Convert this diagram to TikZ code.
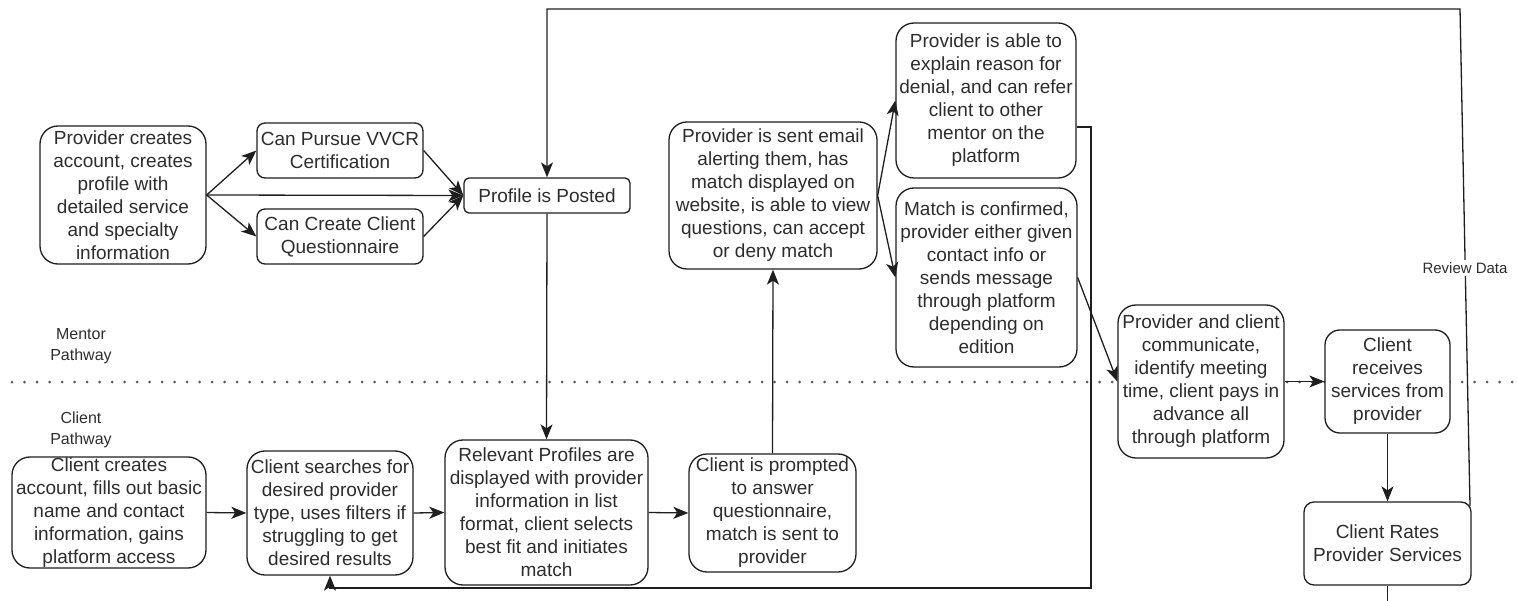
\documentclass[tikz,border=0pt]{standalone}
\usepackage{fontspec}
\setmainfont{Liberation Sans}
\usetikzlibrary{arrows.meta}
\definecolor{ink}{RGB}{30,30,30}
\definecolor{txt}{RGB}{45,45,45}
\definecolor{dots}{RGB}{90,90,90}

\begin{document}
\begin{tikzpicture}[x=1pt,y=-1pt,
  box/.style={draw=ink, line width=1.3pt, fill=white, rounded corners=#1,
    inner sep=0pt, align=center, text=txt, font=\fontsize{19}{23}\selectfont},
  box/.default=18pt,
  flow/.style={draw=ink, line width=1.3pt, -{Stealth[length=15pt,width=12pt,inset=4pt]}},
  wire/.style={draw=ink, line width=1.3pt},
  lane/.style={text=txt, align=center, font=\fontsize{16}{21}\selectfont},
  tag/.style={text=txt, fill=white, inner sep=2pt, font=\fontsize{15}{18}\selectfont},
]
\useasboundingbox (0,0) rectangle (1517,601);

% lane separator
\draw[dots, line width=3pt, line cap=round, dash pattern=on 0pt off 12.5pt]
  (12,382) -- (1517,382);

\node[lane] (mentor) at (81,346) {Mentor\\Pathway};
\node[lane] (client) at (81,429.5) {Client\\Pathway};

% mentor pathway
\node[box, minimum width=166, minimum height=138] (pcreate) at (123,195)
  {Provider creates\\account, creates\\profile with\\detailed service\\and specialty\\information};
\node[box=8pt, minimum width=166, minimum height=55] (vvcr) at (340,150.5)
  {Can Pursue VVCR\\Certification};
\node[box=8pt, minimum width=166, minimum height=55] (quest) at (340,236.5)
  {Can Create Client\\Questionnaire};
\node[box=5pt, minimum width=166, minimum height=35] (posted) at (547,195.5)
  {Profile is Posted};
\node[box, minimum width=208, minimum height=147] (email) at (773,195.5)
  {Provider is sent email\\alerting them, has\\match displayed on\\website, is able to view\\questions, can accept\\or deny match};
\node[box, minimum width=180, minimum height=155] (denial) at (986,100.5)
  {Provider is able to\\explain reason for\\denial, and can refer\\client to other\\mentor on the\\platform};
\node[box, minimum width=181, minimum height=179] (match) at (986.5,277.5)
  {Match is confirmed,\\provider either given\\contact info or\\sends message\\through platform\\depending on\\edition};
\node[box, minimum width=166, minimum height=153] (comm) at (1201,381.5)
  {Provider and client\\communicate,\\identify meeting\\time, client pays in\\advance all\\through platform};
\node[box=15pt, minimum width=125, minimum height=103] (receive) at (1387.5,381.5)
  {Client\\receives\\services from\\provider};
\node[box=10pt, minimum width=167, minimum height=83] (rates) at (1387.5,543.5)
  {Client Rates\\Provider Services};

% client pathway
\node[box, minimum width=194, minimum height=111] (ccreate) at (109,512.5)
  {Client creates\\account, fills out basic\\name and contact\\information, gains\\platform access};
\node[box, minimum width=166, minimum height=124] (search) at (330,513)
  {Client searches for\\desired provider\\type, uses filters if\\struggling to get\\desired results};
\node[box, minimum width=203, minimum height=145] (relevant) at (546.5,512.5)
  {Relevant Profiles are\\displayed with provider\\information in list\\format, client selects\\best fit and initiates\\match};
\node[box, minimum width=167, minimum height=118] (prompt) at (772.5,513)
  {Client is prompted\\to answer\\questionnaire,\\match is sent to\\provider};

% connectors
\draw[flow] (pcreate.east) -- (vvcr.west);
\draw[flow] (pcreate.east) -- (quest.west);
\draw[flow] (pcreate.east) -- (posted.west);
\draw[flow] (vvcr.east) -- (posted.west);
\draw[flow] (quest.east) -- (posted.west);
\draw[flow] (posted.south) -- (relevant.north);
\draw[flow] (ccreate.east) -- (search.west);
\draw[flow] (search.east) -- (relevant.west);
\draw[flow] (relevant.east) -- (prompt.west);
\draw[flow] (prompt.north) -- (email.south);
\draw[flow] (email.east) -- (denial.west);
\draw[flow] (email.east) -- (match.west);
\draw[flow] (match.east) -- (comm.west);
\draw[flow] (comm.east) -- (receive.west);
\draw[flow] (receive.south) -- (rates.north);

% referral back to the search step
\draw[flow] (denial.east |- 0,127) -| (1091,588) -| (search.south);

% review data loop back to the posted profile
\coordinate (rv) at (1460,9);
\draw[flow] (1470,506) -- (rv) -| (posted.north);
\node[tag] (review) at (1465,268) {Review Data};

% continuation below
\coordinate (tail) at (1387.5,603);
\draw[wire] (rates.south) -- (tail);
\end{tikzpicture}
\end{document}
